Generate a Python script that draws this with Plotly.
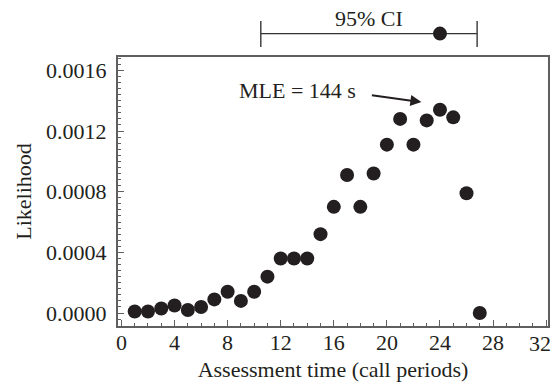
import plotly.graph_objects as go

# Data
assessment_time = list(range(1, 28))
likelihood = [0.00001, 0.00001, 0.00003, 0.00005, 0.00002, 0.00004, 0.00009,
              0.00014, 0.00008, 0.00014, 0.00024, 0.00036, 0.00036, 0.00036,
              0.00052, 0.00070, 0.00091, 0.00070, 0.00092, 0.00111, 0.00128,
              0.00111, 0.00127, 0.00134, 0.00129, 0.00079, 0.00000]
mle = 24
ci_low = 10.5
ci_high = 26.8
y_tickvals = [0.0, 0.0004, 0.0008, 0.0012, 0.0016]
x_tickvals = [0, 4, 8, 12, 16, 20, 24, 28, 32]
x_ticktext = ["0", "4", "8", "12", "16", "20", "24", "28", "32"]

FONT = "Liberation Serif"
FS = 22
INK = "#231f20"
AXC = "#5f5f5f"

# last x label is drawn right-aligned at its tick so it stays inside the figure
x_ticktext_axis = x_ticktext[:-1] + [""]

fig = go.Figure()
fig.add_trace(go.Scatter(
    x=assessment_time, y=likelihood, mode="markers",
    marker=dict(size=14, color=INK, line=dict(width=0)),
    showlegend=False, cliponaxis=False,
))

# CI bar above plot
ci_y = 1.087
fig.add_shape(type="line", xref="x", yref="paper", x0=ci_low, x1=ci_high,
              y0=ci_y, y1=ci_y, line=dict(color="#333333", width=1.2))
for xv in (ci_low, ci_high):
    fig.add_shape(type="line", xref="x", yref="paper", x0=xv, x1=xv,
                  y0=1.037, y1=1.134, line=dict(color="#444444", width=1.5))
fig.add_shape(type="circle", xref="x", yref="paper", xsizemode="pixel",
              ysizemode="pixel", xanchor=mle, yanchor=ci_y,
              x0=-7, x1=7, y0=-7, y1=7, fillcolor=INK, line=dict(width=0))
fig.add_annotation(x=(ci_low + ci_high) / 2, y=1.1426, xref="x", yref="paper",
                   text="95% CI", showarrow=False, xanchor="center",
                   yanchor="middle", font=dict(family=FONT, size=FS, color=INK))

# MLE label and arrow
fig.add_annotation(x=13.27, y=0.001468, xref="x", yref="y", text="MLE = 144 s",
                   showarrow=False, xanchor="center", yanchor="middle",
                   font=dict(family=FONT, size=FS, color=INK))
fig.add_annotation(x=22.6, y=0.001391, xref="x", yref="y", text="",
                   showarrow=True, ax=-51, ay=-7, axref="pixel", ayref="pixel",
                   arrowhead=2, arrowsize=1.1, arrowwidth=2, arrowcolor=INK)

# last x tick label
fig.add_annotation(x=x_tickvals[-1], y=-0.0669, xref="x", yref="paper",
                   text=x_ticktext[-1], showarrow=False, xanchor="right",
                   yanchor="middle", xshift=6, borderpad=0,
                   font=dict(family=FONT, size=FS, color=INK))

fig.update_xaxes(
    range=[-0.26, 32.14], tickvals=x_tickvals, ticktext=x_ticktext_axis,
    ticks="inside", ticklen=6,
    tickwidth=1.3, tickcolor=AXC, showline=True, linecolor=AXC, linewidth=2,
    mirror=True, showgrid=False, zeroline=False, ticklabelstandoff=-4,
    minor=dict(dtick=1, ticks="inside", ticklen=3, tickcolor=AXC, tickwidth=1.2),
    tickfont=dict(family=FONT, size=FS, color=INK),
    title=dict(text="Assessment time (call periods)", standoff=7,
               font=dict(family=FONT, size=FS, color=INK)),
)
fig.update_yaxes(
    range=[-0.0000855, 0.001688], tickvals=y_tickvals, tickformat=".4f",
    ticks="inside", ticklen=6, tickwidth=1.3, tickcolor=AXC, showline=True,
    linecolor=AXC, linewidth=2, mirror=True, showgrid=False, zeroline=False,
    ticklabelstandoff=5,
    minor=dict(dtick=0.00004, tick0=0, ticks="inside", ticklen=3,
               tickcolor=AXC, tickwidth=1.2),
    tickfont=dict(family=FONT, size=FS, color=INK),
    title=dict(text="Likelihood", standoff=8,
               font=dict(family=FONT, size=FS, color=INK)),
)
fig.update_layout(
    width=555, height=386, margin=dict(l=118, r=7, t=57, b=60, autoexpand=False),
    paper_bgcolor="white", plot_bgcolor="white",
)
fig.write_html(
    "out.html",
    config={"displayModeBar": False},
    post_script="document.body.style.margin='0';document.body.style.overflow='hidden';",
)
